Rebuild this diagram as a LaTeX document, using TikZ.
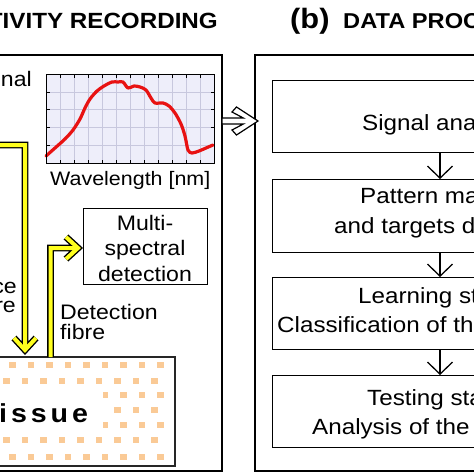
\documentclass[tikz,border=0pt]{standalone}
\usepackage{fontspec}
\setmainfont{Liberation Sans}[FakeStretch=1.1]
\usetikzlibrary{arrows.meta}
\definecolor{fibrecol}{RGB}{255,255,30}
\definecolor{tissuesq}{RGB}{250,202,150}
\definecolor{plotbg}{RGB}{238,238,250}
\definecolor{gridcol}{RGB}{200,200,222}
\definecolor{curvecol}{RGB}{232,18,18}
\begin{document}
\begin{tikzpicture}[x=1pt,y=-1pt,
  frame/.style={draw=black, line width=1.3pt},
  stagebox/.style={draw=black, line width=1.3pt, fill=white, minimum width=320pt, anchor=north west, inner sep=0pt},
  txt/.style={font=\fontsize{22}{30}\selectfont, inner sep=0pt},
  lbl/.style={font=\fontsize{21}{20}\selectfont, inner sep=0pt},
  flow/.style={-{Straight Barb[length=12pt,width=25pt]}, line width=1.3pt},
  fibrepath/.style={draw=fibrecol, line width=4pt, line join=miter, preaction={draw=black, line width=6.8pt, line join=miter}},
  sq/.style={fill=tissuesq},
]
\useasboundingbox (0,0) rectangle (474,474);
\clip (0,0) rectangle (474,474);

% titles
\node[anchor=base east, font=\fontsize{22}{26}\selectfont\bfseries, inner sep=0pt] (titleA) at (218,28) {TIVITY RECORDING};
\node[anchor=base west, font=\fontsize{28}{30}\selectfont\bfseries, inner sep=0pt] (titleB) at (290,28) {(b)};
\node[anchor=base west, font=\fontsize{21.5}{26}\selectfont\bfseries, inner sep=0pt] (titleC) at (343,28) {DATA PROC};

% panel frames
\draw[frame] (-10,55) -- (222,55) -- (222,471) -- (-10,471);
\draw[frame] (490,55) -- (255,55) -- (255,471) -- (490,471);

% hollow arrow between panels
\draw[line width=1.2pt, fill=white, line join=miter]
  (222,118) -- (243.3,118) -- (232,112) -- (236.5,107) -- (258,121) -- (236.5,135) -- (232,130) -- (243.3,124) -- (222,124) -- cycle;

% spectrum plot
\fill[plotbg] (46,74) rectangle (214,163);
\foreach \i in {1,...,11} {
  \draw[gridcol, line width=0.6pt] ({46+14*\i},74) -- ({46+14*\i},163);
  \draw[black, line width=0.6pt] ({46+14*\i},74) -- ({46+14*\i},77.5);
  \draw[black, line width=0.6pt] ({46+14*\i},163) -- ({46+14*\i},159.5);
}
\foreach \j in {1,...,4} {
  \draw[gridcol, line width=0.6pt] (46,{74+17.8*\j}) -- (214,{74+17.8*\j});
  \draw[black, line width=0.6pt] (46,{74+17.8*\j}) -- (49.5,{74+17.8*\j});
  \draw[black, line width=0.6pt] (214,{74+17.8*\j}) -- (210.5,{74+17.8*\j});
}
\draw[curvecol, line width=3.2pt, line cap=round, line join=round] plot[smooth, tension=0.5] coordinates {
  (46,156) (55,148) (65,139) (73,130) (80,119) (85,108) (90,99) (97,91) (104,86) (112,82)
  (118,82) (123,82) (128,88) (134,86) (140,87) (146,90) (151,98) (155,103) (163,103)
  (169,106) (175,113) (181,124) (185,136) (188,150) (192,153) (199,151) (206,148) (213,145)};
\draw[black, line width=1pt] (46,74) rectangle (214,163);
\node[anchor=base west, font=\fontsize{19.5}{22}\selectfont, inner sep=0pt] (wl) at (50,185) {Wavelength [nm]};

% left labels
\node[lbl, anchor=base east] (sig) at (32,86) {gnal};
\node[lbl, anchor=base east] (src1) at (17,293) {ce};
\node[lbl, anchor=base east] (src2) at (16,312) {re};
\node[lbl, anchor=north west, align=left] (det) at (60,304) {Detection\\fibre};

% multispectral detection box
\node[draw=black, line width=1.3pt, minimum width=124pt, minimum height=76pt, anchor=north west, inner sep=0pt] (multi) at (83,208) {};
\node[font=\fontsize{21}{25.5}\selectfont, align=center, anchor=north, inner sep=0pt] (multitxt) at (145,215) {Multi-\\spectral\\detection};

% tissue
\node[draw=black!85, line width=1.4pt, fill=white, minimum width=200pt, minimum height=108pt, anchor=north east, inner sep=0pt] (tissue) at (175,357) {};
\begin{scope}
\clip (tissue.south west) rectangle (tissue.north east);
\foreach \yy in {365,395,425,457} {
  \foreach \k in {0,...,8} { \fill[sq] ({12.5+18.5*\k-3.4},{\yy-3.4}) rectangle +(6.8,6.8); }
}
\foreach \yy in {381,410,440} {
  \foreach \k in {0,...,8} { \fill[sq] ({6.5+18.5*\k-3.4},{\yy-3.4}) rectangle +(6.8,6.8); }
}
\fill[white] (-10,389) rectangle (103,432);
\end{scope}
\draw[draw=black!85, line width=1.4pt] (tissue.north west) rectangle (tissue.south east);
\node[anchor=base west, font=\fontsize{26}{28}\selectfont\bfseries\addfontfeature{LetterSpace=15}, inner sep=0pt] (tissuetxt) at (-1,422) {issue};

% fibres
\coordinate (srcin) at (-10,145);
\coordinate (srcbend) at (25,145);
\coordinate (srctip) at (25,350);
\coordinate (detbend) at (50.5,248);
\coordinate (dettip) at (78,248);
\draw[fibrepath] (srcin) -- (srcbend) -- (srctip) (14,338) -- (srctip) -- (36,338);
\draw[fibrepath] (tissue.north -| detbend) -- (detbend) -- (dettip) (66,237) -- (dettip) -- (66,259);

% data processing stages
\node[stagebox, minimum height=72pt] (s1) at (272,80) {};
\node[stagebox, minimum height=73pt] (s2) at (272,179) {};
\node[stagebox, minimum height=72pt] (s3) at (272,277) {};
\node[stagebox, minimum height=72pt] (s4) at (272,375) {};
\coordinate (ax) at (440,0);
\draw[flow] (s1.south -| ax) -- (s2.north -| ax);
\draw[flow] (s2.south -| ax) -- (s3.north -| ax);
\draw[flow] (s3.south -| ax) -- (s4.north -| ax);

\node[txt, anchor=base west] (t1) at (362,130) {Signal ana};
\node[txt, anchor=base west] (t2a) at (360,203) {Pattern ma};
\node[txt, anchor=base west] (t2b) at (334,233) {and targets d};
\node[txt, anchor=base west] (t3a) at (358,303) {Learning st};
\node[txt, anchor=base west] (t3b) at (277,332) {Classification of th};
\node[txt, anchor=base west] (t4a) at (367,405) {Testing sta};
\node[txt, anchor=base west] (t4b) at (312,434) {Analysis of the};
\end{tikzpicture}
\end{document}
